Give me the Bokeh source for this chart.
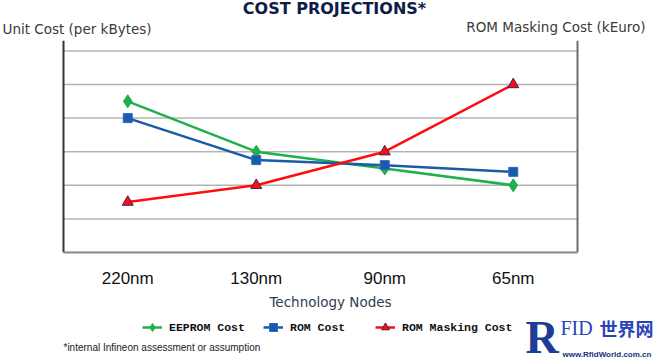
import numpy as np
from bokeh.plotting import figure
from bokeh.layouts import column
from bokeh.models import Range1d, FixedTicker, Label, Legend, LegendItem
from bokeh.embed import file_html
from bokeh.resources import INLINE

# ---- data ----
nodes = ["220nm", "130nm", "90nm", "65nm"]
eeprom_cost = [4.5, 3.0, 2.5, 2.0]
rom_cost = [4.0, 2.75, 2.6, 2.4]
rom_masking_cost = [1.5, 2.0, 3.0, 5.0]
grid_levels = [0, 1, 2, 3, 4, 5, 6]

series_names = ["EEPROM Cost", "ROM Cost", "ROM Masking Cost"]
left_axis_title = "Unit Cost (per kBytes)"
right_axis_title = "ROM Masking Cost (kEuro)"
chart_title = "COST PROJECTIONS*"
x_title = "Technology Nodes"
footnote = "*internal Infineon assessment or assumption"

GREEN = "#1fb04c"
BLUE = "#1b5aa8"
RED = "#ff0d0d"
W = 660

# category slots: node i sits in the middle of slot [i, i+1]
node_pos = [i + 0.5 for i in range(len(nodes))]
n_slots = len(nodes)
y_top = 6.3   # top of the value axis (a little above the last grid line)

# ---------------- chart (frame spans the full width and the header) -------
p = figure(width=W, height=312,
           x_range=Range1d(-0.4903, n_slots + 0.6459), y_range=Range1d(0, 7.5),
           y_axis_type=None,
           output_backend="svg", toolbar_location=None, title=None,
           min_border_left=0, min_border_right=0,
           min_border_top=0, min_border_bottom=58)
p.outline_line_color = None
p.background_fill_color = "white"
p.border_fill_color = "white"
p.xgrid.grid_line_color = None

xa = p.xaxis[0]
xa.ticker = FixedTicker(ticks=node_pos)
xa.major_label_overrides = {pos: name for pos, name in zip(node_pos, nodes)}
xa.bounds = (0, n_slots)
xa.axis_line_color = "#8a8a8a"
xa.axis_line_width = 2
xa.major_tick_line_color = None
xa.major_tick_out = 0
xa.major_tick_in = 0
xa.minor_tick_line_color = None
xa.major_label_text_font = "Liberation Sans"
xa.major_label_text_font_size = "17px"
xa.major_label_text_color = "#111111"
xa.major_label_standoff = 16
xa.axis_label = x_title
xa.axis_label_text_font = "DejaVu Sans"
xa.axis_label_text_font_size = "13.5px"
xa.axis_label_text_font_style = "normal"
xa.axis_label_text_color = "#2f3d52"
xa.axis_label_standoff = 3

# horizontal grid lines across the category slots
p.segment(x0=0, x1=n_slots, y0=grid_levels, y1=grid_levels,
          line_color="#b4b4b4", line_width=1.5)
# value axes (left and right)
p.segment(x0=[0], x1=[0], y0=[0], y1=[y_top], line_color="#333333",
          line_width=2)
p.segment(x0=[n_slots], x1=[n_slots], y0=[0], y1=[y_top],
          line_color="#6e6e6e", line_width=2)

# series
p.line(node_pos, eeprom_cost, line_color=GREEN, line_width=2.5)
p.line(node_pos, rom_cost, line_color=BLUE, line_width=2.5)
p.line(node_pos, rom_masking_cost, line_color=RED, line_width=2.5)
p.scatter(node_pos, eeprom_cost, marker="diamond", size=13,
          fill_color=GREEN, line_color=GREEN)
p.scatter(node_pos, rom_cost, marker="square", size=9,
          fill_color=BLUE, line_color="#2a6cc0")
p.scatter(node_pos, rom_masking_cost, marker="triangle", size=11,
          fill_color=RED, line_color="#3b2466", line_width=1)


def slab(f, text, x, y, size, font="DejaVu Sans", color="#3a3a3a",
         align="left", style="normal", units="screen"):
    f.add_layout(Label(x=x, y=y, x_units=units, y_units=units, text=text,
                       text_font=font, text_font_size=size, text_color=color,
                       text_align=align, text_baseline="middle",
                       text_font_style=style))


# header texts (screen units, measured up from the frame bottom)
slab(p, chart_title, 334, 244, "16px", color="#101c48", align="center",
     style="bold")
slab(p, left_axis_title, 2, 224, "13.5px")
slab(p, right_axis_title, 645, 226, "13.5px", align="right")

# ---------------- legend + footnote strip ----------------
foot = figure(width=W, height=50, x_range=Range1d(0, W),
              y_range=Range1d(362, 312), x_axis_type=None, y_axis_type=None,
              output_backend="svg", toolbar_location=None, title=None,
              min_border=0)
foot.outline_line_color = None
foot.background_fill_color = "white"
foot.border_fill_color = "white"

styles = [
    dict(color=GREEN, marker="diamond", size=13, line=GREEN),
    dict(color=BLUE, marker="square", size=9, line="#2a6cc0"),
    dict(color=RED, marker="triangle", size=11, line="#3b2466"),
]
legend_x = [142, 263, 375]
nan = np.array([np.nan])
for name, st, lx in zip(series_names, styles, legend_x):
    lr = foot.line(x=nan, y=nan, line_color=st["color"], line_width=2.5)
    sr = foot.scatter(x=nan, y=nan, marker=st["marker"], size=st["size"],
                      fill_color=st["color"], line_color=st["line"])
    leg = Legend(items=[LegendItem(label=name, renderers=[lr, sr])],
                 location=(lx, 25), orientation="horizontal",
                 glyph_width=20, glyph_height=20, label_standoff=7,
                 label_height=20, padding=3, margin=0,
                 border_line_color=None, background_fill_alpha=0,
                 label_text_font="Liberation Mono",
                 label_text_font_style="bold",
                 label_text_font_size="11.5px",
                 label_text_color="#111111")
    foot.add_layout(leg)

slab(foot, footnote, 63, 347, "10px", font="Liberation Sans",
     color="#222222", units="data")

# watermark of the source image
slab(foot, "R", 525, 337, "46px", font="Liberation Serif", color="#1d3c94",
     style="bold", units="data")
slab(foot, "FID", 560, 327, "20px", font="Liberation Serif", color="#2a44b8",
     units="data")
slab(foot, "世界网", 599, 327, "18px", font="Noto Sans CJK SC",
     color="#2a44b8", style="bold", units="data")
slab(foot, "www.RfidWorld.com.cn", 562, 354, "8px", font="Liberation Sans",
     color="#1a2f80", style="bold", units="data")

layout = column(p, foot, spacing=0)
open("out.html", "w").write(file_html(layout, INLINE))
